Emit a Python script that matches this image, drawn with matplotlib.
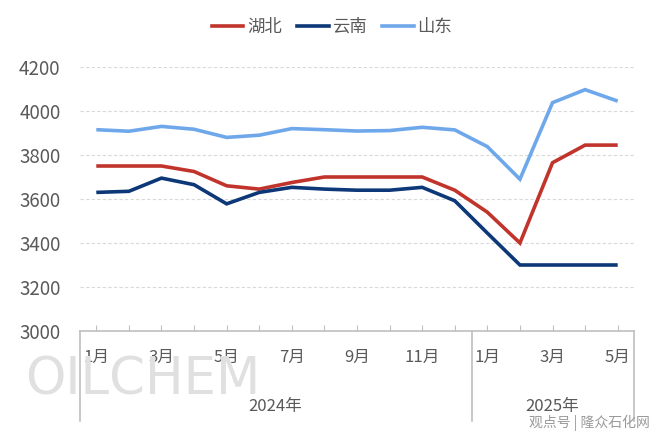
import matplotlib
matplotlib.use('Agg')
import matplotlib.pyplot as plt
from matplotlib.lines import Line2D

plt.rcParams['font.family'] = ['Noto Sans CJK SC', 'DejaVu Sans']

# 2024-01 .. 2025-05
months = ['1月', '2月', '3月', '4月', '5月', '6月', '7月', '8月', '9月', '10月', '11月', '12月',
          '1月', '2月', '3月', '4月', '5月']
years = ['2024年', '2025年']
hubei = [3750, 3750, 3750, 3725, 3660, 3645, 3675, 3700, 3700, 3700, 3700, 3640,
         3540, 3400, 3765, 3845, 3845]
yunnan = [3630, 3635, 3695, 3665, 3578, 3630, 3653, 3645, 3640, 3640, 3653, 3592,
          3445, 3300, 3300, 3300, 3300]
shandong = [3915, 3908, 3930, 3917, 3880, 3890, 3920, 3915, 3909, 3911, 3926, 3914,
            3838, 3690, 4038, 4097, 4045]
series_names = ['湖北', '云南', '山东']
colors = ['#C1342C', '#0C3878', '#6FA8EA']

grey_text = '#595959'
line_grey = '#BFBFBF'

fig = plt.figure(figsize=(6.6, 4.4), dpi=100)
ax = fig.add_axes([80 / 660, 1 - 331 / 440, 554 / 660, 264 / 440])

x = list(range(len(months)))
for vals, name, c in zip([hubei, yunnan, shandong], series_names, colors):
    ax.plot(x, vals, color=c, lw=2.6, label=name, solid_capstyle='butt', solid_joinstyle='miter')

ax.set_xlim(-0.5, 16.5)
ax.set_ylim(3000, 4200)
ax.set_yticks(range(3000, 4201, 200))
ax.tick_params(axis='y', length=0, labelsize=13.5, labelcolor=grey_text, pad=14)
for yv in range(3200, 4201, 200):
    ax.axhline(yv, color='#D9D9D9', lw=0.8, ls=(0, (3, 2)), zorder=0)

for s in ['left', 'right', 'top']:
    ax.spines[s].set_visible(False)
ax.spines['bottom'].set_color(line_grey)
ax.spines['bottom'].set_linewidth(1.2)

ax.set_xticks(x)
ax.set_xticklabels([])
ax.tick_params(axis='x', direction='in', length=4, color=line_grey, width=0.8)

# watermark behind the labels
fig.text(25 / 660, 1 - 380 / 440, 'OILCHEM', fontsize=37, color='#E0E0E0',
         family='DejaVu Sans', va='center', ha='left', zorder=0)

# month labels (every other month) and year groups below the axis
for i in range(0, len(months), 2):
    ax.annotate(months[i], (i, 3000), xytext=(0, -19), textcoords='offset points',
                ha='center', va='center', fontsize=12, color=grey_text, annotation_clip=False)
ax.annotate(years[0], (5.5, 3000), xytext=(0, -54), textcoords='offset points',
            ha='center', va='center', fontsize=12, color=grey_text, annotation_clip=False)
ax.annotate(years[1], (14.0, 3000), xytext=(0, -54), textcoords='offset points',
            ha='center', va='center', fontsize=12, color=grey_text, annotation_clip=False)

# group separators
for xv in [80, 472, 634]:
    fig.add_artist(Line2D([xv / 660, xv / 660], [1 - 331 / 440, 1 - 421 / 440],
                          color=line_grey, lw=1.2))

fig.text(650 / 660, 1 - 423 / 440, '观点号 | 隆众石化网', fontsize=10, color='#9A9A9A',
         ha='right', va='center')

handles = [Line2D([0], [0], color=c, lw=2.6) for c in colors]
fig.legend(handles, series_names, loc='center', bbox_to_anchor=(332 / 660, 1 - 27 / 440),
           ncol=3, frameon=False, fontsize=12.5, handlelength=1.8, handletextpad=0.2,
           columnspacing=0.9, labelcolor=grey_text)

fig.savefig('out.png', dpi=100)
